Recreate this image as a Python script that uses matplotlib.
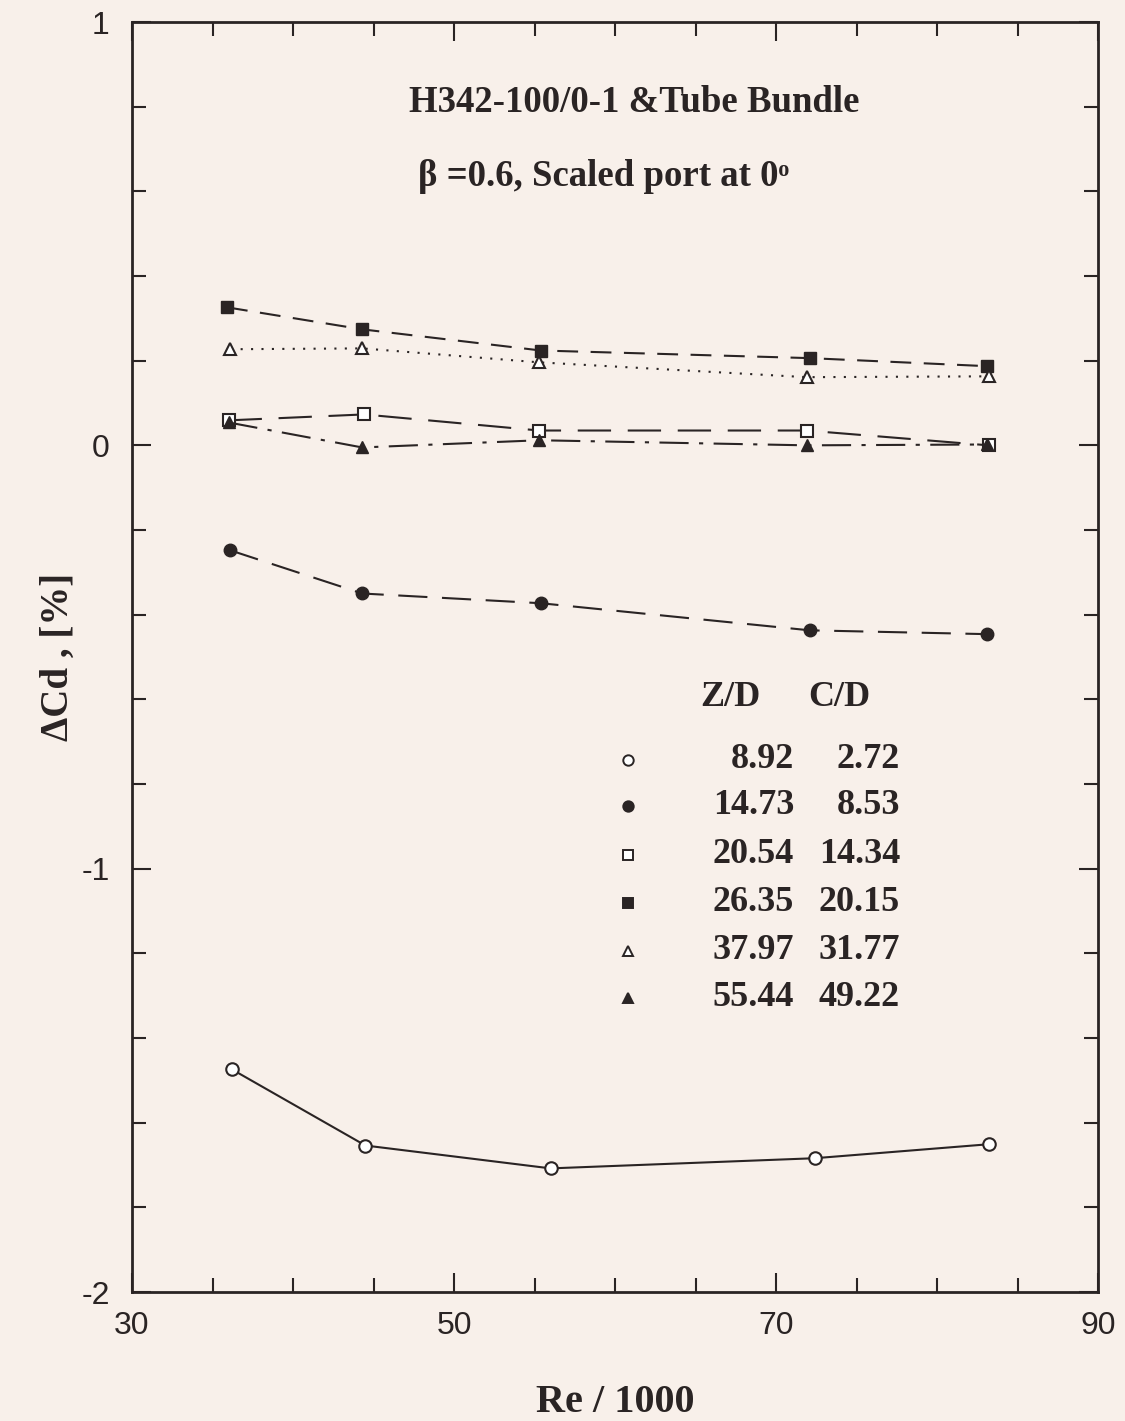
import matplotlib
matplotlib.use("Agg")
import matplotlib.pyplot as plt
from matplotlib import font_manager as fm

# ---------------- data ----------------
re_open_circle = [36.2, 44.5, 56.0, 72.4, 83.2]
cd_open_circle = [-1.474, -1.654, -1.708, -1.684, -1.651]

re_filled_circle = [36.1, 44.3, 55.4, 72.1, 83.1]
cd_filled_circle = [-0.248, -0.350, -0.373, -0.437, -0.446]

re_open_square = [36.0, 44.4, 55.3, 71.9, 83.2]
cd_open_square = [0.059, 0.073, 0.035, 0.035, 0.0]

re_filled_square = [35.9, 44.3, 55.4, 72.1, 83.1]
cd_filled_square = [0.326, 0.274, 0.224, 0.206, 0.187]

re_open_tri = [36.1, 44.3, 55.3, 71.9, 83.2]
cd_open_tri = [0.227, 0.229, 0.196, 0.161, 0.163]

re_filled_tri = [36.0, 44.3, 55.3, 71.9, 83.1]
cd_filled_tri = [0.054, -0.005, 0.012, 0.0, 0.002]

legend_zd = ["8.92", "14.73", "20.54", "26.35", "37.97", "55.44"]
legend_cd = ["2.72", "8.53", "14.34", "20.15", "31.77", "49.22"]

xticks_major = [30, 50, 70, 90]
yticks_major = [1, 0, -1, -2]

# ---------------- fonts ----------------
plt.rcParams['axes.unicode_minus'] = False
names = {f.name for f in fm.fontManager.ttflist}
serif = "Liberation Serif" if "Liberation Serif" in names else "DejaVu Serif"
narrow = "Liberation Sans Narrow" if "Liberation Sans Narrow" in names else "Liberation Sans"

bg = "#f8f0ea"
ink = "#2a2424"

fig = plt.figure(figsize=(11.25, 14.21), dpi=100, facecolor=bg)
ax = fig.add_axes([132/1125, 1-1292/1421, (1098-132)/1125, (1292-22)/1421])
ax.set_facecolor(bg)

ax.set_xlim(30, 90)
ax.set_ylim(-2, 1)

ms = 9
lw = 1.5
ax.plot(re_open_circle, cd_open_circle, '-', color=ink, lw=lw, marker='o', ms=ms,
        mfc='white', mec=ink, mew=1.5)
ax.plot(re_filled_circle, cd_filled_circle, color=ink, lw=lw, ls=(0, (14, 7)), marker='o', ms=ms,
        mfc=ink, mec=ink)
ax.plot(re_open_square, cd_open_square, color=ink, lw=lw, ls=(0, (16, 8)), marker='s', ms=ms,
        mfc='white', mec=ink, mew=1.5)
ax.plot(re_filled_square, cd_filled_square, color=ink, lw=lw, ls=(0, (10, 6)), marker='s', ms=ms,
        mfc=ink, mec=ink)
ax.plot(re_open_tri, cd_open_tri, color=ink, lw=lw, ls=(0, (1, 4)), marker='^', ms=ms,
        mfc='white', mec=ink, mew=1.5)
ax.plot(re_filled_tri, cd_filled_tri, color=ink, lw=lw, ls=(0, (14, 5, 2, 5)), marker='^', ms=ms,
        mfc=ink, mec=ink)

# ---------------- ticks ----------------
ax.set_xticks(xticks_major)
ax.set_xticks([v for v in range(30, 91, 5) if v not in xticks_major], minor=True)
ax.set_yticks(yticks_major)
ax.set_yticks([round(-2 + 0.2*i, 1) for i in range(16) if round(-2 + 0.2*i, 1) not in yticks_major], minor=True)
ax.tick_params(which='both', direction='in', top=True, right=True, color=ink, width=1.5)
ax.tick_params(which='major', length=14)
ax.tick_params(which='minor', length=10)
ax.tick_params(axis='x', which='major', pad=14)
ax.tick_params(axis='y', which='major', pad=16)
for lab in ax.get_xticklabels() + ax.get_yticklabels():
    lab.set_fontfamily(narrow)
    lab.set_fontsize(23)
    lab.set_color(ink)
for s in ax.spines.values():
    s.set_linewidth(2)
    s.set_color(ink)

ax.set_xlabel("Re / 1000", fontfamily=serif, fontweight='bold', fontsize=29, color=ink, labelpad=31)
ax.set_ylabel("ΔCd , [%]", fontfamily=serif, fontweight='bold', fontsize=28, color=ink, labelpad=3)

# ---------------- annotations ----------------
ax.text(0.2865, 0.9365, "H342-100/0-1 &Tube Bundle", transform=ax.transAxes,
        fontfamily=serif, fontweight='bold', fontsize=26.5, color=ink, va='center', ha='left')
ax.text(0.2965, 0.878, "β =0.6, Scaled port at 0ᵒ", transform=ax.transAxes,
        fontfamily=serif, fontweight='bold', fontsize=26.5, color=ink, va='center', ha='left')

# ---------------- legend (manual table) ----------------
def ax_x(px):
    return (px - 132) / (1098 - 132)

def ax_y(py):
    return (1292 - py) / (1292 - 22)

fs_leg = 26
ax.text(ax_x(700), ax_y(698), "Z/D", transform=ax.transAxes, fontfamily=serif, fontweight='bold',
        fontsize=fs_leg, color=ink, ha='left', va='center')
ax.text(ax_x(808), ax_y(698), "C/D", transform=ax.transAxes, fontfamily=serif, fontweight='bold',
        fontsize=fs_leg, color=ink, ha='left', va='center')
leg_styles = [('o', 'white'), ('o', ink), ('s', 'white'), ('s', ink), ('^', 'white'), ('^', ink)]
rows_py = [760, 806, 855, 903, 951, 998]
for (m, fc), zd, cd, py in zip(leg_styles, legend_zd, legend_cd, rows_py):
    ax.plot([ax_x(628)], [ax_y(py)], marker=m, ms=7.5, mfc=fc, mec=ink, mew=1.4,
            transform=ax.transAxes, ls='none', clip_on=False)
    ax.text(ax_x(794), ax_y(py), zd, transform=ax.transAxes, fontfamily=serif, fontweight='bold',
            fontsize=fs_leg, color=ink, ha='right', va='center')
    ax.text(ax_x(900), ax_y(py), cd, transform=ax.transAxes, fontfamily=serif, fontweight='bold',
            fontsize=fs_leg, color=ink, ha='right', va='center')

fig.savefig("out.png", dpi=100, facecolor=bg)
